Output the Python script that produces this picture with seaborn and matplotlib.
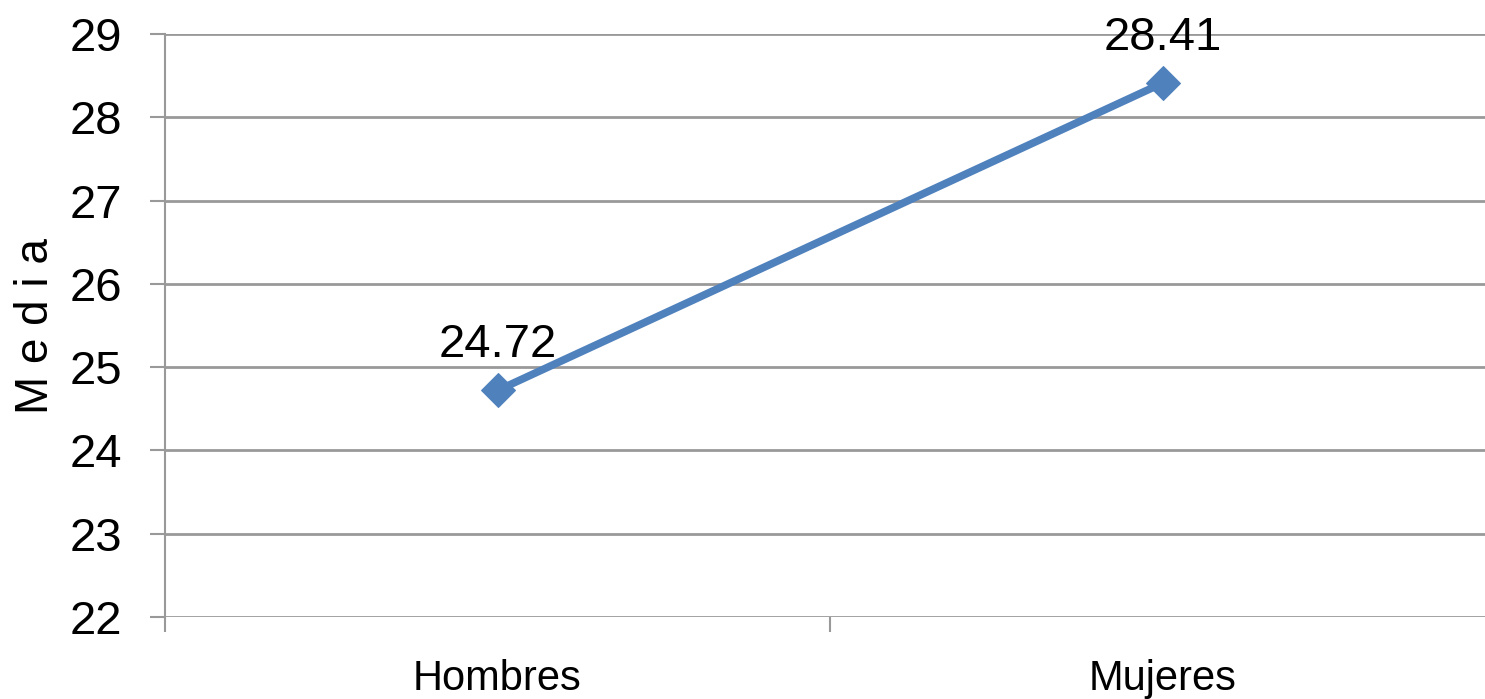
import matplotlib
matplotlib.use("Agg")
import matplotlib.pyplot as plt
import seaborn as sns
import pandas as pd

sexo = ["Hombres", "Mujeres"]
media = [24.72, 28.41]
y_ticks = [22, 23, 24, 25, 26, 27, 28, 29]

df = pd.DataFrame({"sexo": sexo, "media": media})

sns.set_style("white")
plt.rcParams["font.family"] = ["Liberation Sans", "DejaVu Sans"]
plt.rcParams["text.color"] = "black"
plt.rcParams["xtick.color"] = "black"
plt.rcParams["ytick.color"] = "black"

W, H = 1485, 699
fig = plt.figure(figsize=(W / 100, H / 100), dpi=100)
ax = fig.add_axes([165 / W, 82 / H, 1330 / W, 583 / H])

sns.lineplot(data=df, x="sexo", y="media", ax=ax, color="#4F81BD",
             linewidth=5.5, marker="D", markersize=17,
             markeredgecolor="#4F81BD", sort=False)

for i, v in enumerate(media):
    ax.annotate(f"{v:.2f}", (i, v), xytext=(0, 17), textcoords="offset points",
                ha="center", va="bottom", fontsize=34, color="black")

ax.set_xlim(-0.5, 1.5)
ax.set_ylim(22, 29)
ax.set_yticks(y_ticks)
ax.yaxis.grid(True, color="#999999", linewidth=2)
ax.set_axisbelow(True)

ax.set_xticks([0, 1])
ax.set_xticklabels(sexo, fontsize=30)
ax.set_xticks([-0.5, 0.5, 1.5], minor=True)
ax.tick_params(axis="x", which="major", bottom=True, length=0, pad=30)
ax.tick_params(axis="x", which="minor", bottom=True, length=11, width=1.5,
               color="#999999", direction="out")
ax.tick_params(axis="y", left=True, length=11, width=1.5, color="#999999",
               labelcolor="black", direction="out", pad=20, labelsize=34)

for s in ["top", "right", "bottom"]:
    ax.spines[s].set_visible(False)
ax.spines["left"].set_color("#999999")
ax.spines["left"].set_linewidth(1.5)

ax.set_xlabel("")
ax.set_ylabel("M e d i a", fontsize=33, labelpad=8, color="black")

fig.savefig("out.png", dpi=100)
